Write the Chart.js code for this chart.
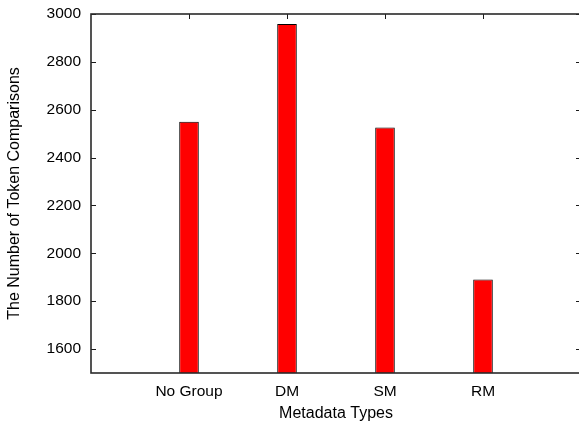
<!DOCTYPE html>
<html>
<head>
<meta charset="utf-8">
<script src="https://cdn.jsdelivr.net/npm/chart.js@4/dist/chart.umd.min.js"></script>
<style>
  html, body { margin: 0; padding: 0; background: #fff; overflow: hidden; }
  #wrap { width: 579px; height: 426px; overflow: hidden; }
  canvas { display: block; }
</style>
</head>
<body>
<div id="wrap"><canvas id="c" width="590" height="426"></canvas></div>
<script>
// ---- data ----
const categories = ['No Group', 'DM', 'SM', 'RM'];
const comparisons = [2550, 2958, 2526, 1891];
const yTickValues = [1600, 1800, 2000, 2200, 2400, 2600, 2800, 3000];
const yMin = 1500;
const yMax = 3000;
const xTitle = 'Metadata Types';
const yTitle = 'The Number of Token Comparisons';

// padded category axis (one empty slot at each end, like gnuplot's xrange)
const labels = [''].concat(categories, ['']);
const values = [null].concat(comparisons, [null]);

const FAMILY = '"Liberation Sans", Arial, Helvetica, sans-serif';
const TICK_FONT = { family: FAMILY, size: 15.5 };
const TITLE_FONT = { family: FAMILY, size: 16 };

const frame = {
  id: 'frame',
  beforeDatasetsDraw(chart) {
    const { ctx, chartArea: a, scales: { x } } = chart;
    ctx.save();
    ctx.strokeStyle = '#000';
    ctx.lineWidth = 1;
    for (let i = 1; i <= categories.length; i++) {
      const px = x.getPixelForValue(i);
      ctx.beginPath(); ctx.moveTo(px, a.bottom); ctx.lineTo(px, a.bottom - 5); ctx.stroke();
    }
    ctx.restore();
  },
  afterDatasetsDraw(chart) {
    const { ctx, chartArea: a, scales: { x, y } } = chart;
    ctx.save();
    ctx.strokeStyle = '#1a1a1a';
    ctx.lineWidth = 1;
    y.ticks.forEach(t => {
      const py = Math.round(y.getPixelForValue(t.value)) + 0.5;
      ctx.beginPath(); ctx.moveTo(a.left, py); ctx.lineTo(a.left + 5, py); ctx.stroke();
      ctx.beginPath(); ctx.moveTo(a.right, py); ctx.lineTo(a.right - 5, py); ctx.stroke();
    });
    for (let i = 1; i <= categories.length; i++) {
      const px = Math.round(x.getPixelForValue(i)) + 0.5;
      ctx.beginPath(); ctx.moveTo(px, a.top); ctx.lineTo(px, a.top + 5); ctx.stroke();
    }
    ctx.lineWidth = 1.6;
    ctx.strokeStyle = '#2a2a2a';
    ctx.strokeRect(a.left, a.top, a.right - a.left, a.bottom - a.top);
    ctx.restore();
  }
};

new Chart(document.getElementById('c'), {
  type: 'bar',
  data: {
    labels: labels,
    datasets: [{
      data: values,
      backgroundColor: '#ff0000',
      borderColor: '#000000',
      borderWidth: 1,
      barPercentage: 0.2,
      categoryPercentage: 1.0
    }]
  },
  options: {
    responsive: false,
    animation: false,
    devicePixelRatio: 1,
    layout: { padding: { left: 0, right: 9, top: 14, bottom: 0 } },
    plugins: { legend: { display: false }, tooltip: { enabled: false } },
    scales: {
      x: {
        type: 'category',
        offset: false,
        grid: { display: false, drawTicks: true, tickLength: 9 },
        border: { display: false },
        ticks: { color: '#000', font: TICK_FONT, padding: 0, autoSkip: false, maxRotation: 0 },
        title: { display: true, text: xTitle, color: '#000', font: TITLE_FONT, padding: { top: 0, bottom: 3 } },
        afterFit(s) { s.height = 53; }
      },
      y: {
        type: 'linear',
        min: yMin,
        max: yMax,
        grid: { display: false, drawTicks: true, tickLength: 10 },
        border: { display: false },
        ticks: { color: '#000', font: TICK_FONT, padding: 0, callback: v => String(v) },
        afterBuildTicks(s) { s.ticks = yTickValues.map(v => ({ value: v })); },
        title: { display: true, text: yTitle, color: '#000', font: TITLE_FONT, padding: { top: 5, bottom: 0 } },
        afterFit(s) { s.width = 91; }
      }
    }
  },
  plugins: [frame]
});
</script>
</body>
</html>
